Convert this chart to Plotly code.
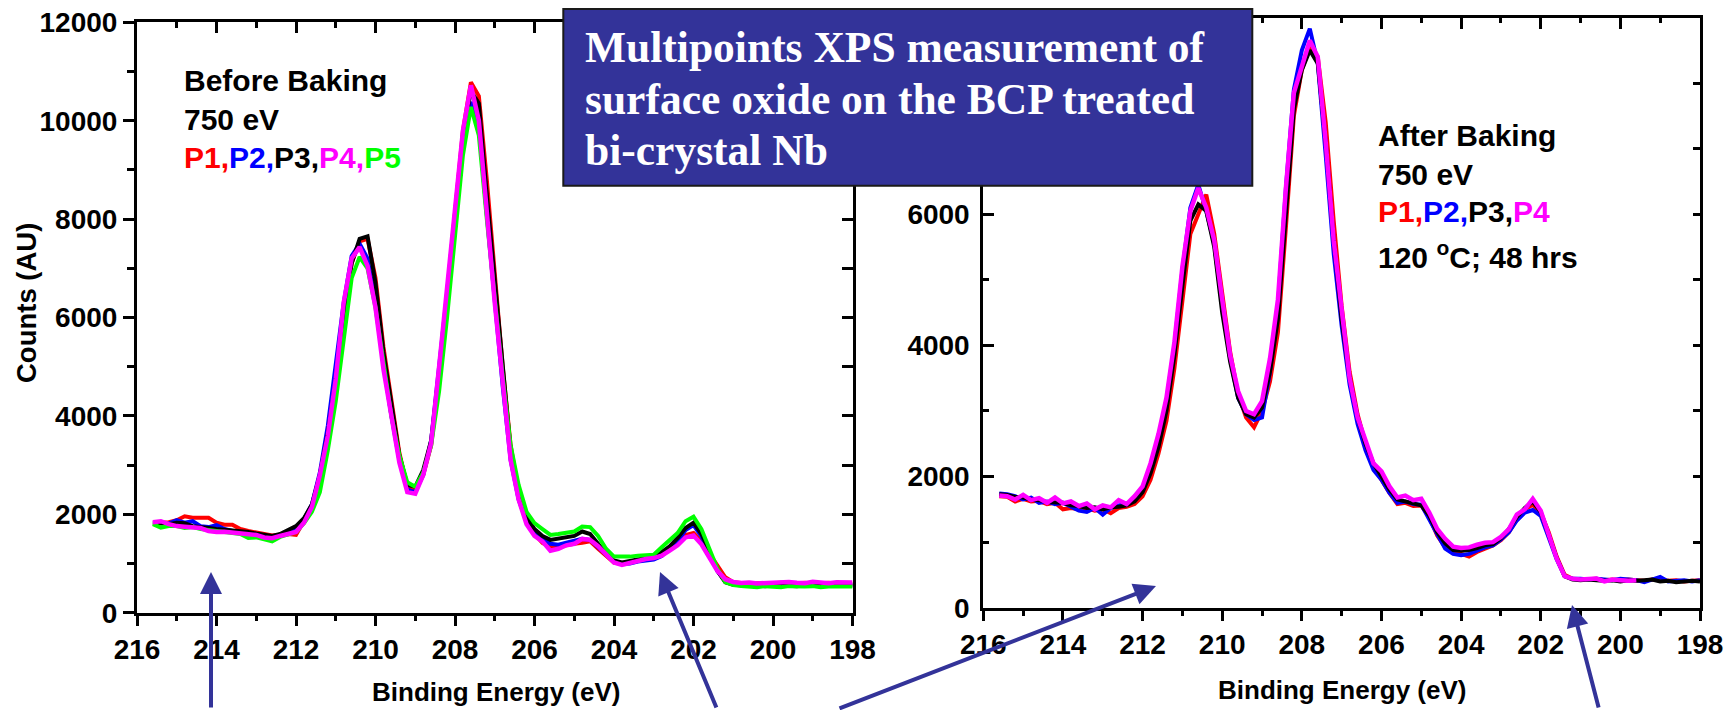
import plotly.graph_objects as go

# ---------------- data ----------------
energy = [215.6, 215.4, 215.2, 215.0, 214.8, 214.6, 214.4, 214.2, 214.0, 213.8,
          213.6, 213.4, 213.2, 213.0, 212.8, 212.6, 212.4, 212.2, 212.0, 211.8,
          211.6, 211.4, 211.2, 211.0, 210.8, 210.6, 210.4, 210.2, 210.0, 209.8,
          209.6, 209.4, 209.2, 209.0, 208.8, 208.6, 208.4, 208.2, 208.0, 207.8,
          207.6, 207.4, 207.2, 207.0, 206.8, 206.6, 206.4, 206.2, 206.0, 205.8,
          205.6, 205.4, 205.2, 205.0, 204.8, 204.6, 204.4, 204.2, 204.0, 203.8,
          203.6, 203.4, 203.2, 203.0, 202.8, 202.6, 202.4, 202.2, 202.0, 201.8,
          201.6, 201.4, 201.2, 201.0, 200.8, 200.6, 200.4, 200.2, 200.0, 199.8,
          199.6, 199.4, 199.2, 199.0, 198.8, 198.6, 198.4, 198.2, 198.0]

# Before baking (left panel)
before_p1 = [1830, 1830, 1840, 1880, 1960, 1930, 1920, 1930, 1830, 1790,
             1790, 1700, 1660, 1640, 1600, 1570, 1590, 1600, 1580, 1850,
             2150, 2750, 3600, 4650, 6050, 7100, 7550, 7600, 6800, 5400,
             4300, 3250, 2550, 2500, 2800, 3400, 4800, 6400, 8100, 9800,
             10780, 10500, 8800, 6900, 5000, 3400, 2450, 1850, 1600, 1420,
             1330, 1340, 1380, 1400, 1420, 1450, 1300, 1150, 1020, 990,
             1010, 1050, 1080, 1100, 1170, 1280, 1420, 1580, 1620, 1450,
             1200, 950, 720, 620, 600, 590, 600, 590, 600, 610,
             590, 600, 610, 590, 600, 610, 590, 600, 590]
before_p2 = [1820, 1830, 1810, 1880, 1830, 1860, 1760, 1740, 1780, 1700,
             1660, 1650, 1620, 1600, 1570, 1540, 1580, 1620, 1700, 1900,
             2200, 2850, 3800, 5000, 6300, 7250, 7500, 7200, 6300, 5050,
             4000, 3100, 2500, 2450, 2800, 3500, 4950, 6500, 8100, 9700,
             10380, 9900, 8100, 6300, 4600, 3100, 2300, 1850, 1620, 1500,
             1400, 1380, 1420, 1450, 1500, 1480, 1330, 1180, 1030, 990,
             1000, 1040, 1060, 1080, 1150, 1290, 1450, 1680, 1780, 1550,
             1200, 850, 640, 580, 575, 570, 560, 575, 565, 570,
             560, 575, 570, 560, 570, 565, 570, 560, 570]
before_p3 = [1830, 1820, 1800, 1830, 1820, 1760, 1730, 1720, 1700, 1690,
             1680, 1650, 1640, 1610, 1580, 1560, 1600, 1680, 1760, 1920,
             2200, 2800, 3650, 4700, 6100, 7100, 7600, 7650, 6700, 5300,
             4200, 3200, 2600, 2560, 2900, 3500, 4900, 6400, 8100, 9700,
             10600, 10350, 8500, 6700, 4900, 3300, 2500, 1950, 1700, 1560,
             1480, 1500, 1530, 1560, 1650, 1600, 1400, 1200, 1060, 1020,
             1050, 1080, 1120, 1150, 1230, 1350, 1520, 1720, 1830, 1600,
             1250, 850, 620, 570, 560, 550, 560, 540, 560, 545,
             550, 540, 560, 545, 550, 540, 555, 545, 550]
before_p4 = [1840, 1860, 1800, 1760, 1745, 1740, 1720, 1660, 1640, 1645,
             1630, 1615, 1600, 1580, 1530, 1515, 1560, 1590, 1640, 1830,
             2150, 2800, 3600, 4750, 6300, 7200, 7430, 7050, 6200, 4950,
             3950, 3050, 2450, 2420, 2800, 3450, 5000, 6500, 8200, 9800,
             10720, 10000, 8100, 6300, 4700, 3100, 2300, 1800, 1560, 1450,
             1260, 1300, 1370, 1400, 1500, 1480, 1350, 1190, 1020, 970,
             1010, 1060, 1090, 1110, 1160, 1260, 1370, 1530, 1570, 1390,
             1100, 850, 680, 625, 605, 615, 595, 605, 595, 605,
             625, 610, 600, 630, 620, 600, 620, 610, 615]
before_p5 = [1800, 1730, 1760, 1760, 1720, 1740, 1700, 1680, 1660, 1650,
             1620, 1600, 1520, 1530, 1490, 1450, 1540, 1600, 1640, 1820,
             2050, 2450, 3300, 4300, 5600, 6800, 7230, 7000, 6200, 5100,
             4000, 3200, 2650, 2560, 2850, 3400, 4500, 6000, 7700, 9300,
             10280, 9700, 8000, 6300, 4800, 3400, 2600, 2050, 1820, 1700,
             1580, 1600, 1630, 1650, 1750, 1740, 1560, 1300, 1140, 1130,
             1140, 1160, 1170, 1180, 1330, 1480, 1620, 1860, 1950, 1700,
             1300, 900, 620, 560, 540, 530, 520, 540, 530, 520,
             540, 525, 530, 540, 520, 530, 535, 520, 530]

# After baking (right panel)
after_p1 = [1700, 1690, 1620, 1660, 1620, 1630, 1580, 1600, 1500, 1520,
            1500, 1520, 1480, 1500, 1440, 1520, 1540, 1580, 1700, 1950,
            2350, 2850, 3650, 4700, 5700, 6000, 6300, 5700, 4800, 3900,
            3250, 2900, 2750, 3000, 3450, 4200, 5800, 7500, 8200, 8550,
            8400, 7400, 5900, 4600, 3600, 2950, 2500, 2150, 1950, 1750,
            1580, 1600, 1550, 1560, 1380, 1100, 920, 850, 820, 780,
            850, 900, 950, 1030, 1150, 1350, 1500, 1570, 1450, 1150,
            780, 500, 440, 430, 430, 440, 420, 430, 420, 430,
            420, 410, 430, 420, 410, 420, 400, 410, 420]
after_p2 = [1740, 1730, 1700, 1650, 1680, 1600, 1620, 1580, 1600, 1540,
            1480, 1460, 1520, 1420, 1520, 1560, 1580, 1650, 1800, 2150,
            2600, 3150, 4000, 5150, 6100, 6450, 6050, 5550, 4600, 3800,
            3200, 2950, 2860, 2900, 3600, 4600, 6400, 7900, 8500, 8830,
            8300, 6900, 5400, 4300, 3400, 2800, 2400, 2100, 1950, 1750,
            1600, 1620, 1580, 1570, 1350, 1100, 900, 820, 800, 820,
            870, 920, 950, 1040, 1150, 1330, 1450, 1490, 1400, 1080,
            740, 480, 440, 440, 430, 440, 430, 420, 440, 430,
            420, 390, 430, 470, 400, 410, 420, 400, 420]
after_p3 = [1730, 1720, 1690, 1680, 1650, 1640, 1610, 1600, 1600, 1560,
            1550, 1520, 1530, 1500, 1530, 1540, 1560, 1620, 1760, 2050,
            2450, 3000, 3850, 4900, 5900, 6150, 6050, 5500, 4500, 3750,
            3200, 2950, 2900, 3050, 3600, 4400, 6000, 7600, 8200, 8500,
            8300, 7100, 5600, 4400, 3500, 2900, 2500, 2200, 2000, 1800,
            1650, 1620, 1600, 1560, 1400, 1150, 980, 880, 870, 880,
            910, 950, 970, 1060, 1200, 1380, 1520, 1620, 1460, 1100,
            760, 480, 430, 420, 430, 420, 410, 420, 400, 420,
            410, 420, 430, 400, 410, 390, 400, 410, 400]
after_p4 = [1710, 1700, 1650, 1720, 1640, 1670, 1600, 1680, 1590, 1620,
            1550, 1590, 1500, 1560, 1530, 1640, 1580, 1700, 1850, 2200,
            2650, 3200, 4050, 5200, 6050, 6400, 6100, 5600, 4700, 3850,
            3300, 3000, 2950, 3150, 3800, 4700, 6400, 7850, 8250, 8650,
            8400, 7100, 5600, 4500, 3500, 2900, 2550, 2200, 2080, 1850,
            1680, 1710, 1640, 1660, 1450, 1200, 1050, 930, 910, 920,
            960, 990, 1000, 1080, 1200, 1420, 1500, 1660, 1480, 1100,
            750, 480, 440, 430, 440, 445, 400, 430, 420, 410,
            420]

series_colors = {"P1": "#FF0000", "P2": "#0000FF", "P3": "#000000",
                 "P4": "#FF00FF", "P5": "#00FF00"}

left_ticks = [0, 2000, 4000, 6000, 8000, 10000, 12000]
left_ticktext = ["0", "2000", "4000", "6000", "8000", "10000", "12000"]
right_ticks = [0, 2000, 4000, 6000]          # the 8000 label sits under the title box
right_ticktext = ["0", "2000", "4000", "6000"]

# ---------------- figure ----------------
W, H = 1735, 710
def px(v):
    return v / W
def py(v):
    return 1 - v / H

fig = go.Figure()

left_sets = [("P1", before_p1), ("P2", before_p2), ("P3", before_p3),
             ("P5", before_p5), ("P4", before_p4)]
for name, ys in left_sets:
    fig.add_trace(go.Scatter(x=energy[:len(ys)], y=ys, mode="lines", name=name,
                             line=dict(color=series_colors[name],
                                       width=4.5 if name == "P4" else 4),
                             xaxis="x", yaxis="y", showlegend=False))

right_sets = [("P1", after_p1), ("P2", after_p2), ("P3", after_p3),
              ("P4", after_p4)]
for name, ys in right_sets:
    fig.add_trace(go.Scatter(x=energy[:len(ys)], y=ys, mode="lines", name=name,
                             line=dict(color=series_colors[name],
                                       width=4.5 if name == "P4" else 4),
                             xaxis="x2", yaxis="y2", showlegend=False))

# empty traces so the mirrored (top / right) axes are drawn
fig.add_trace(go.Scatter(x=[None], y=[None], xaxis="x3", yaxis="y", showlegend=False, hoverinfo="skip"))
fig.add_trace(go.Scatter(x=[None], y=[None], xaxis="x", yaxis="y3", showlegend=False, hoverinfo="skip"))
fig.add_trace(go.Scatter(x=[None], y=[None], xaxis="x4", yaxis="y2", showlegend=False, hoverinfo="skip"))
fig.add_trace(go.Scatter(x=[None], y=[None], xaxis="x2", yaxis="y4", showlegend=False, hoverinfo="skip"))

FONT = "Arial, Liberation Sans, sans-serif"
tickfont = dict(family=FONT, size=28, color="black", weight="bold")
LW = 3

left_dom_x = [px(137), px(852.5)]
left_dom_y = [py(612.7), py(22.3)]
right_dom_x = [px(983.3), px(1700)]
right_dom_y = [py(607.7), py(17.5)]

common_x = dict(range=[216, 198], dtick=2, tick0=0, showgrid=False, zeroline=False,
                showline=True, linecolor="black", linewidth=LW, tickcolor="black",
                tickwidth=2.5, automargin=False)
common_y = dict(showgrid=False, zeroline=False, showline=True, linecolor="black",
                linewidth=LW, tickcolor="black", tickwidth=2.5, automargin=False)

fig.update_layout(
    width=W, height=H,
    margin=dict(l=0, r=0, t=0, b=0, pad=0, autoexpand=False),
    paper_bgcolor="white", plot_bgcolor="white",
    showlegend=False,
    xaxis=dict(**common_x, domain=left_dom_x, anchor="y", side="bottom",
               ticks="outside", ticklen=10, tickfont=tickfont,
               minor=dict(dtick=1, ticks="outside", ticklen=5, tickwidth=2.5, tickcolor="black")),
    xaxis3=dict(**common_x, overlaying="x", anchor="y", side="top",
                ticks="inside", ticklen=11, showticklabels=False,
                minor=dict(dtick=1, ticks="inside", ticklen=6, tickwidth=2.5, tickcolor="black")),
    yaxis=dict(**common_y, domain=left_dom_y, anchor="x", range=[0, 12000],
               tickmode="array", tickvals=left_ticks, ticktext=left_ticktext,
               ticks="outside", ticklen=11, tickfont=tickfont, ticklabelstandoff=0,
               minor=dict(dtick=1000, ticks="outside", ticklen=7, tickwidth=2.5, tickcolor="black")),
    yaxis3=dict(**common_y, overlaying="y", anchor="x", side="right", range=[0, 12000],
                dtick=2000, ticks="inside", ticklen=11, showticklabels=False,
                minor=dict(dtick=1000, ticks="inside", ticklen=11, tickwidth=2.5, tickcolor="black")),
    xaxis2=dict(**common_x, domain=right_dom_x, anchor="y2", side="bottom",
                ticks="outside", ticklen=10, tickfont=tickfont,
                minor=dict(dtick=1, ticks="outside", ticklen=5, tickwidth=2.5, tickcolor="black")),
    xaxis4=dict(**common_x, overlaying="x2", anchor="y2", side="top",
                ticks="inside", ticklen=11, showticklabels=False,
                minor=dict(dtick=1, ticks="inside", ticklen=5, tickwidth=2.5, tickcolor="black")),
    yaxis2=dict(**common_y, domain=right_dom_y, anchor="x2", range=[0, 9000],
                tickmode="array", tickvals=right_ticks, ticktext=right_ticktext,
                ticks="inside", ticklen=11, tickfont=tickfont, ticklabelstandoff=5,
                minor=dict(dtick=1000, ticks="inside", ticklen=6, tickwidth=2.5, tickcolor="black")),
    yaxis4=dict(**common_y, overlaying="y2", anchor="x2", side="right", range=[0, 9000],
                dtick=2000, ticks="inside", ticklen=7, showticklabels=False,
                minor=dict(dtick=1000, ticks="inside", ticklen=7, tickwidth=2.5, tickcolor="black")),
)

# title box
BOX = "#333399"
fig.add_shape(type="rect", xref="paper", yref="paper",
              x0=px(563.3), x1=px(1252.3), y0=py(185.7), y1=py(9),
              fillcolor=BOX, line=dict(color="#1a1a1a", width=2), layer="above")

SERIF = "Times New Roman, Liberation Serif, serif"
title_lines = ["Multipoints XPS measurement of",
               "surface oxide on the BCP treated",
               "bi-crystal Nb"]
title_mid = [47.0, 98.6, 149.8]
for t, ym in zip(title_lines, title_mid):
    fig.add_annotation(text=t, xref="paper", yref="paper", x=px(583), y=py(ym),
                       xanchor="left", yanchor="middle", showarrow=False,
                       font=dict(family=SERIF, size=43.5, color="white", weight="bold"))

labfont = dict(family=FONT, size=30, color="black", weight="bold")

def ptext(names):
    parts = []
    for i, n in enumerate(names):
        sep = "," if i < len(names) - 1 else ""
        parts.append('<span style="color:%s">%s%s</span>' % (series_colors[n], n, sep))
    return "".join(parts)

left_notes = [("Before Baking", 80.8), ("750 eV", 119.2),
              (ptext(["P1", "P2", "P3", "P4", "P5"]), 157.5)]
for t, ym in left_notes:
    fig.add_annotation(text=t, xref="paper", yref="paper", x=px(182), y=py(ym),
                       xanchor="left", yanchor="middle", showarrow=False, font=labfont)

right_notes = [("After Baking", 135.9), ("750 eV", 174.2),
               (ptext(["P1", "P2", "P3", "P4"]), 211.9),
               ("120 <sup>o</sup>C; 48 hrs", 255.0)]
for t, ym in right_notes:
    fig.add_annotation(text=t, xref="paper", yref="paper", x=px(1376), y=py(ym),
                       xanchor="left", yanchor="middle", showarrow=False, font=labfont)

# axis titles
titlefont = dict(family=FONT, size=26, color="black", weight="bold")
fig.add_annotation(text="Counts (AU)", xref="paper", yref="paper", x=px(26), y=py(303),
                   textangle=-90, showarrow=False, xanchor="center", yanchor="middle",
                   font=dict(family=FONT, size=27.5, color="black", weight="bold"))
fig.add_annotation(text="Binding Energy (eV)", xref="paper", yref="paper", x=px(496),
                   y=py(692), showarrow=False, xanchor="center", yanchor="middle",
                   font=titlefont)
fig.add_annotation(text="Binding Energy (eV)", xref="paper", yref="paper", x=px(1342),
                   y=py(690), showarrow=False, xanchor="center", yanchor="middle",
                   font=titlefont)

# arrows: (tip), (tail) in page pixels
arrows = [((211, 572), (211, 709)),
          ((660, 572), (717, 709)),
          ((1156, 586), (838, 709)),
          ((1572, 605), (1599, 709))]
for (tx, ty), (sx, sy) in arrows:
    fig.add_annotation(text="", xref="paper", yref="paper", x=px(tx), y=py(ty),
                       ax=sx - tx, ay=sy - ty, axref="pixel", ayref="pixel",
                       showarrow=True, arrowhead=2, arrowsize=1.1, arrowwidth=4,
                       arrowcolor=BOX, standoff=0)

fig.write_html("out.html")
